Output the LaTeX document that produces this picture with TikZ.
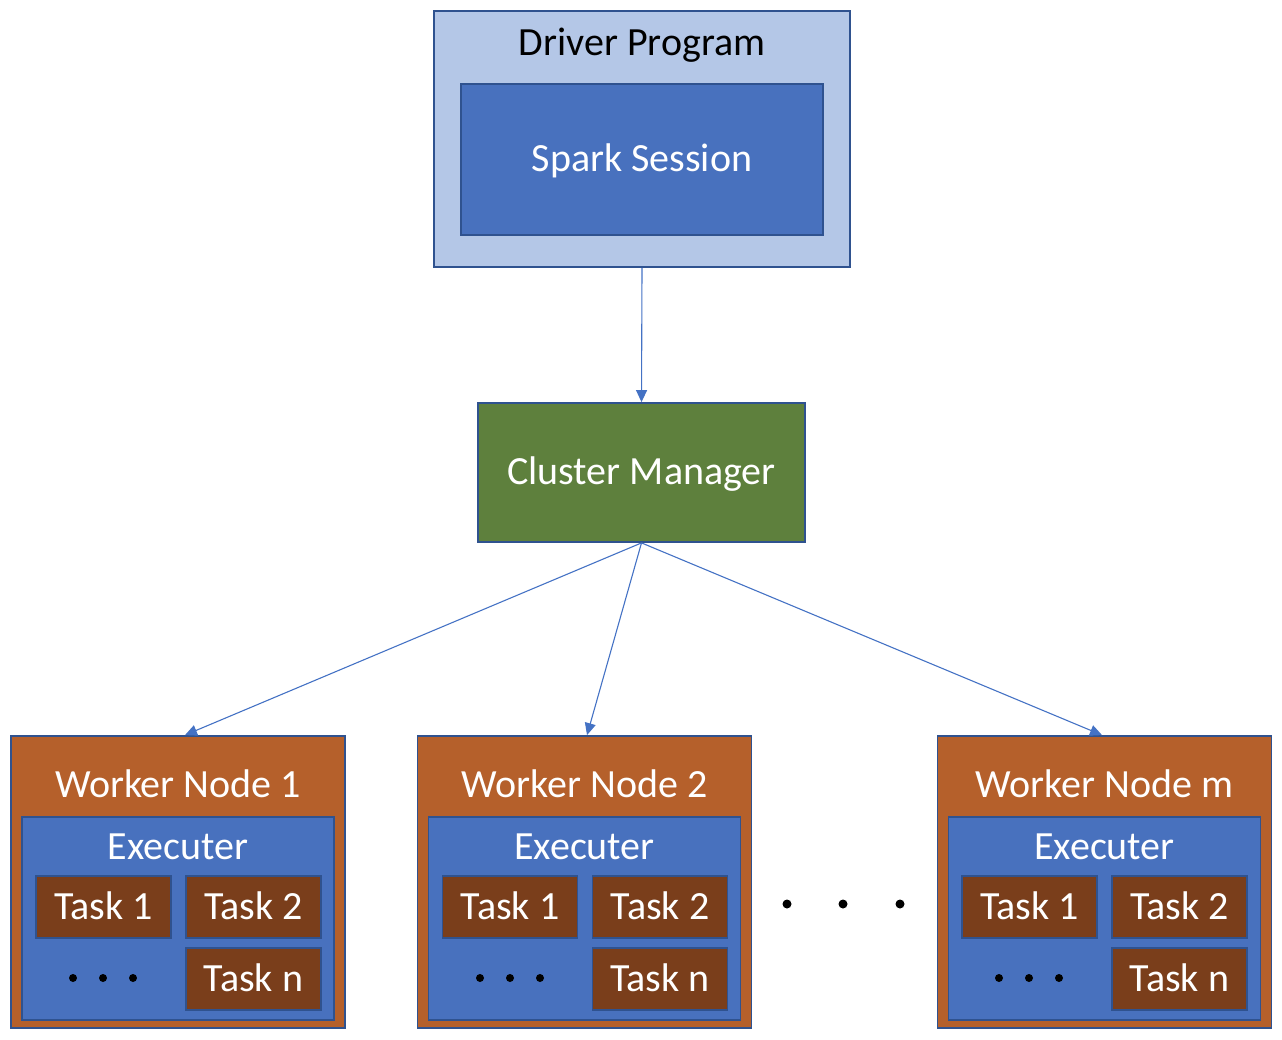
\documentclass[tikz,border=0pt]{standalone}
\usepackage{fontspec}
\setmainfont{Carlito}
\usepackage{xcolor}
\usetikzlibrary{arrows.meta}

\definecolor{edgeblue}{RGB}{47,82,143}
\definecolor{paleblue}{RGB}{180,199,231}
\definecolor{midblue}{RGB}{72,113,190}
\definecolor{linkblue}{RGB}{68,114,196}
\definecolor{mgrgreen}{RGB}{94,128,61}
\definecolor{workerorange}{RGB}{181,96,43}
\definecolor{taskbrown}{RGB}{122,62,27}

\begin{document}
\begin{tikzpicture}[x=1pt,y=-1pt,
  box/.style={draw=edgeblue, line width=1.8, inner sep=0pt, text=white,
    text height=32, text depth=8, font=\fontsize{40}{48}\selectfont},
  label/.style={inner sep=0pt, text=white, text height=32, text depth=8,
    font=\fontsize{40}{48}\selectfont},
  taskbox/.style={box, fill=taskbrown, minimum width=135, minimum height=62},
  execbox/.style={box, fill=midblue, minimum width=312, minimum height=203},
  workerbox/.style={box, fill=workerorange, minimum width=334, minimum height=292},
  link/.style={draw=linkblue, line width=1.1, -{Triangle[width=11,length=12]}}]
\useasboundingbox (0,0) rectangle (1282,1040);

% Driver Program
\node [box, fill=paleblue, minimum width=416, minimum height=256] (driver) at (642,139) {};
\node [label, text=black] (drivertitle) at (642,44) {Driver Program};
\node [box, fill=midblue, minimum width=362, minimum height=151] (session) at (642,159.5) {Spark Session};

% Cluster Manager
\node [box, fill=mgrgreen, minimum width=327, minimum height=139] (manager) at (641.5,472.5) {Cluster Manager};

% Worker Node 1
\node [workerbox] (worker1) at (178,882) {};
\node [label] (worker1title) at (178,785) {Worker Node 1};
\node [execbox] (exec1) at (178,918.5) {};
\node [label] (exec1title) at (178,847) {Executer};
\node [taskbox] (task1a) at (103.5,907) {Task 1};
\node [taskbox] (task1b) at (253.5,907) {Task 2};
\node [taskbox] (task1n) at (253.5,979) {Task n};
\fill (73,978) circle (4) (103,978) circle (4) (133,978) circle (4);

% Worker Node 2
\node [workerbox] (worker2) at (584.5,882) {};
\node [label] (worker2title) at (584.5,785) {Worker Node 2};
\node [execbox] (exec2) at (584.5,918.5) {};
\node [label] (exec2title) at (584.5,847) {Executer};
\node [taskbox] (task2a) at (510,907) {Task 1};
\node [taskbox] (task2b) at (660,907) {Task 2};
\node [taskbox] (task2n) at (660,979) {Task n};
\fill (480,978) circle (4) (510,978) circle (4) (540,978) circle (4);

% dots between the workers
\fill (787,904) circle (4.5) (843,904) circle (4.5) (900,904) circle (4.5);

% Worker Node m
\node [workerbox] (workerm) at (1104.5,882) {};
\node [label] (workermtitle) at (1104.5,785) {Worker Node m};
\node [execbox] (execm) at (1104.5,918.5) {};
\node [label] (execmtitle) at (1104.5,847) {Executer};
\node [taskbox] (taskma) at (1029.5,907) {Task 1};
\node [taskbox] (taskmb) at (1179.5,907) {Task 2};
\node [taskbox] (taskmn) at (1179.5,979) {Task n};
\fill (999,978) circle (4) (1029,978) circle (4) (1059,978) circle (4);

% Connectors
\draw [link] (driver.south) -- (manager.north);
\draw [link] (manager.south) -- ([xshift=7]worker1.north);
\draw [link] (manager.south) -- ([xshift=2.5]worker2.north);
\draw [link] (manager.south) -- ([xshift=-2.5]workerm.north);

\end{tikzpicture}
\end{document}
